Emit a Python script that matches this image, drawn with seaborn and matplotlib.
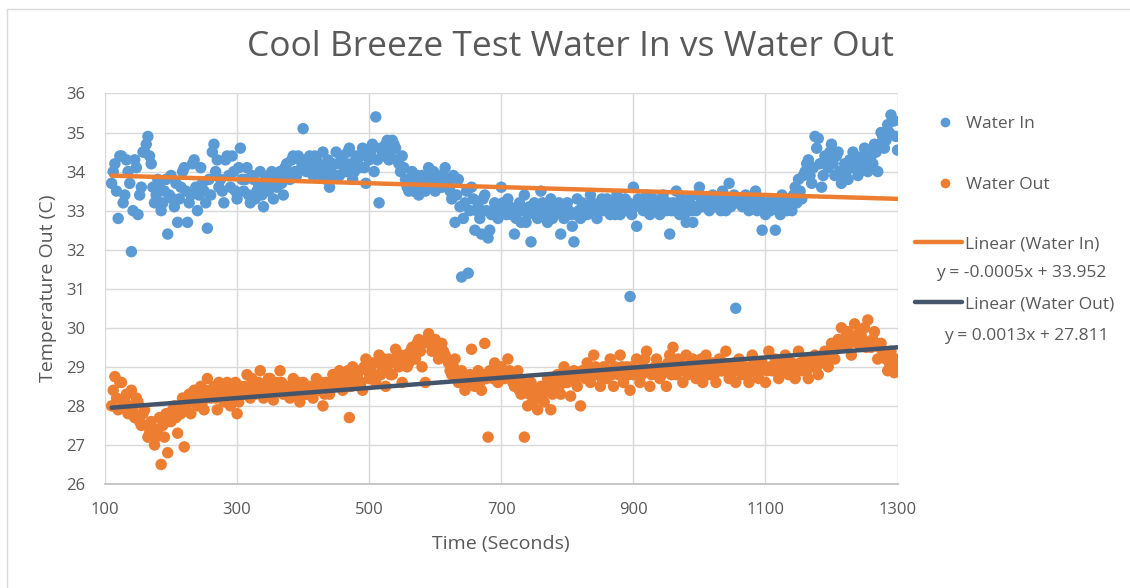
import numpy as np
import pandas as pd
import matplotlib.pyplot as plt
import seaborn as sns
from matplotlib.lines import Line2D
from matplotlib.patches import Rectangle

sns.set_theme(style="white")
plt.rcParams['font.family'] = ['Open Sans', 'DejaVu Sans']

# sample times (s): readings every 5 s, plus the in-between readings
time_a = np.arange(110, 1301, 5)
time_b = np.arange(112.5, 1300, 5)

# temperatures (C), one row = 50 s
water_in_a = [
    33.7, 34.2, 32.8, 34.4, 33.4, 34.0, 31.95, 34.3, 32.9, 33.6,   # 110
    34.5, 34.9, 34.2, 33.2, 33.8, 33.0, 33.5, 32.4, 33.9, 33.1,   # 160
    32.7, 33.6, 34.1, 32.7, 33.4, 34.3, 33.0, 34.1, 33.5, 32.55,  # 210
    33.4, 34.7, 34.3, 33.8, 33.2, 34.4, 33.6, 34.0, 33.3, 34.6,   # 260
    33.5, 34.1, 33.2, 33.8, 33.5, 34.0, 33.1, 33.7, 33.9, 33.3,   # 310
    33.6, 34.0, 33.4, 34.2, 33.8, 34.4, 33.9, 34.3, 35.1, 34.0,   # 360
    34.4, 33.9, 34.3, 34.0, 34.5, 33.8, 33.6, 34.2, 34.5, 33.9,   # 410
    34.3, 34.0, 34.6, 33.8, 34.4, 34.1, 34.6, 33.7, 34.3, 34.7,   # 460
    35.4, 33.2, 34.5, 34.7, 34.3, 34.8, 34.6, 34.2, 34.4, 33.8,   # 510
    33.5, 34.0, 33.6, 33.4, 33.9, 33.5, 34.1, 33.7, 33.5, 33.9,   # 560
    33.6, 34.1, 33.7, 33.3, 32.7, 33.8, 31.3, 33.2, 31.4, 33.6,   # 610
    32.5, 33.1, 32.4, 33.4, 32.3, 32.9, 33.2, 32.8, 33.6, 33.0,   # 660
    33.3, 32.9, 32.4, 33.1, 32.7, 33.4, 32.9, 32.2, 33.2, 32.8,   # 710
    33.5, 33.0, 32.7, 33.3, 32.9, 33.1, 32.4, 32.8, 33.2, 32.9,   # 760
    32.2, 33.3, 32.8, 33.1, 32.9, 33.4, 33.0, 32.8, 33.2, 33.0,   # 810
    33.3, 32.9, 33.1, 33.4, 32.9, 33.2, 33.0, 30.8, 33.6, 32.6,   # 860
    33.2, 33.0, 33.4, 32.9, 33.3, 33.1, 32.9, 33.4, 33.0, 32.4,   # 910
    33.2, 33.5, 32.9, 33.1, 32.7, 33.3, 32.7, 33.0, 33.6, 33.1,   # 960
    33.3, 33.0, 33.4, 33.1, 33.2, 33.5, 33.0, 33.7, 33.2, 30.5,   # 1010
    33.3, 33.1, 33.4, 33.0, 33.2, 33.5, 33.1, 32.5, 32.9, 33.2,   # 1060
    33.3, 32.5, 33.0, 33.4, 33.1, 33.3, 33.0, 33.6, 33.8, 33.3,   # 1110
    34.0, 34.3, 33.7, 34.9, 34.85, 33.6, 34.4, 34.1, 34.7, 33.9,  # 1160
    34.5, 33.7, 34.2, 33.8, 34.1, 34.4, 33.9, 34.3, 34.6, 34.0,   # 1210
    34.4, 34.7, 34.0, 35.0, 34.6, 35.2, 35.45, 35.3, 34.55,       # 1260
]
water_in_b = [
    34.0, 33.5, 34.4, 33.2, 34.3, 33.7, 33.0, 34.1, 33.4, 34.5,   # 112.5
    34.7, 34.4, 33.6, 33.4, 33.6, 33.2, 33.8, 33.4, 33.3, 33.7,   # 162.5
    33.3, 34.0, 33.5, 33.2, 34.2, 33.6, 33.4, 33.7, 33.2, 33.8,   # 212.5
    34.5, 34.0, 33.6, 33.5, 34.3, 33.9, 34.4, 33.5, 34.1, 33.8,   # 262.5
    33.8, 33.4, 33.9, 33.3, 33.6, 33.4, 33.8, 33.5, 34.0, 33.7,   # 312.5
    33.9, 33.7, 34.1, 33.9, 34.3, 34.0, 34.4, 34.1, 34.3, 34.2,   # 362.5
    34.1, 34.4, 34.2, 33.9, 34.1, 34.3, 34.0, 33.9, 34.2, 34.4,   # 412.5
    34.1, 34.5, 34.2, 34.0, 34.2, 34.4, 34.1, 34.5, 34.5, 34.0,   # 462.5
    34.3, 34.6, 34.4, 34.8, 34.5, 34.7, 34.3, 34.0, 34.1, 33.6,   # 512.5
    33.8, 33.5, 33.9, 33.7, 33.6, 33.9, 33.8, 34.0, 33.7, 33.6,   # 562.5
    33.9, 33.8, 33.5, 33.9, 33.4, 33.1, 32.8, 33.5, 33.0, 33.3,   # 612.5
    33.0, 32.8, 33.3, 33.0, 32.5, 33.0, 33.1, 32.9, 33.2, 32.9,   # 662.5
    33.1, 33.0, 32.8, 33.2, 33.0, 32.7, 33.1, 33.0, 32.9, 33.1,   # 712.5
    33.2, 32.9, 33.1, 32.8, 33.0, 33.2, 32.9, 33.1, 33.0, 32.6,   # 762.5
    32.9, 33.0, 33.2, 32.9, 33.1, 33.2, 32.9, 33.1, 33.3, 33.1,   # 812.5
    33.1, 33.2, 32.9, 33.2, 33.1, 33.3, 33.2, 32.9, 33.1, 33.3,   # 862.5
    33.1, 33.2, 33.0, 33.2, 33.1, 33.0, 33.2, 33.1, 33.2, 33.0,   # 912.5
    33.0, 33.2, 33.3, 32.9, 33.2, 33.0, 33.1, 33.4, 33.2, 33.3,   # 962.5
    33.1, 33.2, 33.2, 33.3, 33.0, 33.2, 33.3, 33.1, 33.4, 33.2,   # 1012.5
    33.2, 33.3, 33.1, 33.2, 33.3, 33.0, 33.3, 33.2, 33.1, 33.0,   # 1062.5
    33.1, 33.2, 32.9, 33.2, 33.0, 33.2, 33.4, 33.2, 33.5, 33.9,   # 1112.5
    34.2, 33.9, 34.1, 34.6, 34.2, 33.9, 34.3, 34.5, 34.2, 34.4,   # 1162.5
    34.0, 33.9, 34.0, 34.3, 34.5, 34.2, 34.0, 34.4, 34.2, 34.5,   # 1212.5
    34.2, 34.5, 34.7, 34.9, 34.8, 35.0, 35.3, 34.9,               # 1262.5
]

water_out_a = [
    28.0, 28.75, 27.9, 28.6, 28.2, 27.8, 28.4, 27.7, 28.1, 27.5,  # 110
    27.9, 27.2, 27.6, 27.0, 27.4, 26.5, 27.2, 26.8, 27.6, 28.0,   # 160
    27.3, 27.8, 26.95, 28.1, 27.8, 28.4, 28.0, 28.5, 27.9, 28.7,  # 210
    28.2, 28.5, 27.9, 28.4, 28.1, 28.6, 28.0, 28.3, 27.8, 28.5,   # 260
    28.3, 28.8, 28.2, 28.6, 28.4, 28.9, 28.2, 28.5, 28.7, 28.15,  # 310
    28.6, 28.9, 28.3, 28.5, 28.2, 28.7, 28.4, 28.1, 28.6, 28.3,   # 360
    28.5, 28.2, 28.7, 28.4, 28.0, 28.6, 28.3, 28.8, 28.5, 28.9,   # 410
    28.4, 28.7, 27.7, 29.0, 28.6, 28.9, 28.4, 29.2, 28.7, 29.1,   # 460
    28.6, 29.3, 28.9, 28.5, 29.2, 28.8, 29.45, 29.0, 28.6, 29.3,  # 510
    29.1, 29.5, 29.2, 29.7, 29.0, 28.6, 29.85, 29.4, 29.7, 29.2,  # 560
    29.6, 29.3, 29.1, 28.8, 29.2, 28.6, 28.9, 28.4, 28.7, 29.45,  # 610
    28.5, 28.9, 28.4, 29.6, 27.2, 28.8, 29.1, 28.6, 29.0, 28.7,   # 660
    29.2, 28.8, 28.5, 28.9, 28.3, 27.2, 28.0, 28.6, 28.2, 27.9,   # 710
    28.5, 28.1, 28.7, 27.9, 28.4, 28.8, 28.3, 29.0, 28.6, 28.25,  # 760
    28.9, 28.5, 28.0, 28.8, 29.1, 28.6, 29.3, 28.8, 28.5, 29.0,   # 810
    28.7, 29.2, 28.5, 28.9, 29.3, 28.6, 29.0, 28.4, 28.8, 29.2,   # 860
    28.6, 29.0, 29.4, 28.5, 28.9, 29.2, 28.7, 29.0, 28.5, 29.3,   # 910
    29.5, 28.8, 29.1, 28.6, 29.3, 28.9, 29.2, 28.7, 29.0, 28.6,   # 960
    29.3, 28.8, 29.1, 28.6, 29.2, 28.9, 29.4, 28.7, 29.0, 28.6,   # 1010
    29.2, 28.8, 29.0, 28.6, 29.3, 28.9, 28.7, 29.1, 28.6, 29.4,   # 1060
    28.9, 29.2, 28.7, 29.0, 29.3, 28.8, 29.1, 28.7, 29.4, 28.9,   # 1110
    29.2, 28.7, 29.0, 29.3, 28.8, 29.1, 29.4, 29.0, 29.6, 29.2,   # 1160
    29.7, 30.0, 29.5, 29.9, 29.3, 30.1, 29.6, 29.8, 30.0, 30.2,   # 1210
    29.5, 29.9, 29.2, 29.6, 29.3, 28.9, 29.4, 28.85, 29.0,        # 1260
]
water_out_b = [
    28.4, 28.2, 28.6, 28.0, 28.3, 28.0, 27.9, 28.2, 27.6, 27.8,   # 112.5
    27.5, 27.3, 27.4, 27.2, 27.7, 27.5, 27.8, 27.6, 27.9, 27.7,   # 162.5
    28.0, 28.2, 28.0, 28.3, 28.1, 28.2, 28.3, 28.1, 28.4, 28.3,   # 212.5
    28.4, 28.2, 28.6, 28.3, 28.5, 28.2, 28.4, 28.6, 28.1, 28.3,   # 262.5
    28.5, 28.4, 28.7, 28.3, 28.6, 28.5, 28.4, 28.7, 28.3, 28.5,   # 312.5
    28.4, 28.6, 28.5, 28.3, 28.5, 28.3, 28.6, 28.4, 28.3, 28.5,   # 362.5
    28.3, 28.5, 28.4, 28.6, 28.3, 28.4, 28.6, 28.5, 28.7, 28.6,   # 412.5
    28.6, 28.9, 28.5, 28.8, 28.8, 28.6, 29.0, 28.9, 28.9, 28.8,   # 462.5
    29.1, 28.8, 29.2, 29.0, 28.8, 29.2, 29.1, 29.3, 29.2, 29.0,   # 512.5
    29.4, 29.3, 29.6, 29.4, 29.6, 29.7, 29.6, 29.5, 29.4, 29.5,   # 562.5
    29.4, 29.2, 28.9, 29.0, 28.9, 28.8, 28.7, 28.6, 28.8, 28.6,   # 612.5
    28.7, 28.6, 28.8, 28.7, 28.9, 28.7, 28.9, 28.8, 28.9, 28.8,   # 662.5
    28.9, 28.6, 28.7, 28.4, 28.6, 28.4, 28.3, 28.1, 28.4, 28.2,   # 712.5
    28.3, 28.4, 28.5, 28.3, 28.6, 28.5, 28.7, 28.6, 28.8, 28.7,   # 762.5
    28.7, 28.8, 28.9, 28.7, 28.9, 28.8, 29.0, 28.9, 28.7, 28.8,   # 812.5
    28.9, 28.8, 29.0, 28.8, 29.0, 28.9, 28.8, 29.0, 28.9, 28.9,   # 862.5
    28.8, 29.2, 28.9, 28.8, 29.0, 28.9, 28.8, 28.9, 29.1, 28.8,   # 912.5
    29.0, 29.2, 28.9, 29.0, 28.8, 29.1, 28.9, 28.9, 29.2, 28.8,   # 962.5
    29.0, 28.9, 28.8, 29.0, 28.9, 29.1, 28.9, 28.8, 29.1, 28.9,   # 1012.5
    29.0, 28.9, 28.8, 29.0, 29.1, 28.8, 28.9, 29.0, 28.9, 29.0,   # 1062.5
    29.0, 28.9, 29.1, 28.9, 29.0, 29.1, 28.9, 29.0, 29.1, 29.0,   # 1112.5
    28.9, 29.0, 29.1, 29.0, 29.1, 29.2, 29.2, 29.3, 29.4, 29.5,   # 1162.5
    29.5, 29.7, 29.8, 29.6, 29.7, 29.8, 29.9, 29.7, 29.5, 29.6,   # 1212.5
    29.7, 29.6, 29.5, 29.4, 29.2, 29.1, 29.0, 29.2,               # 1262.5
]

# linear trendline coefficients shown on the chart (slope, intercept)
trend_in = (-0.0005, 33.952)
trend_out = (0.0013, 27.811)

series_names = ['Water In', 'Water Out']
point_colors = {'Water In': '#5B9BD5', 'Water Out': '#ED7D31'}
trend_colors = ['#ED7D31', '#44546A']
text_color = '#595959'
grid_color = '#d9d9d9'

na, nb = len(time_a), len(time_b)
df = pd.DataFrame({
    'Time': np.concatenate([time_a, time_b, time_a, time_b]),
    'Temp': water_in_a + water_in_b + water_out_a + water_out_b,
    'Series': ['Water In'] * (na + nb) + ['Water Out'] * (na + nb),
})

fig = plt.figure(figsize=(11.3, 5.88), dpi=100)
ax = fig.add_axes([0.0929, 0.1769, 0.7014, 0.6641])

sns.scatterplot(data=df, x='Time', y='Temp', hue='Series', palette=point_colors,
                s=68, linewidth=0, alpha=1, legend=False, ax=ax)

# trendlines
t_ends = np.array([time_a.min(), time_a.max()])
for (m, b), c in zip([trend_in, trend_out], trend_colors):
    sns.lineplot(x=t_ends, y=m * t_ends + b, color=c, linewidth=3.2, ax=ax)

ax.set_xlim(100, 1300)
ax.set_ylim(26, 36)
ax.set_xticks(range(100, 1301, 200))
ax.set_yticks(range(26, 37))
ax.grid(True, color=grid_color, linewidth=1)
ax.set_axisbelow(True)
for side in ['top', 'right', 'left']:
    ax.spines[side].set_visible(False)
ax.spines['bottom'].set_color('#bfbfbf')
ax.tick_params(length=0, colors=text_color, labelsize=12)
ax.tick_params(axis='x', pad=13)
ax.tick_params(axis='y', pad=14)
ax.set_xlabel('Time (Seconds)', fontsize=14, color=text_color, labelpad=12)
ax.set_ylabel('Temperature Out (C)', fontsize=14, color=text_color, labelpad=7)

fig.text(0.505, 0.92, 'Cool Breeze Test Water In vs Water Out',
         ha='center', va='center', fontsize=25.5, color=text_color)

# legend: scatter series
dot_handles = [Line2D([], [], marker='o', linestyle='', markersize=7,
                      markerfacecolor=point_colors[s], markeredgewidth=0)
               for s in series_names]
leg1 = ax.legend(dot_handles, series_names, loc='upper left',
                 bbox_to_anchor=(0.821, 0.8027), bbox_transform=fig.transFigure,
                 frameon=False, fontsize=12.5, labelcolor=text_color,
                 labelspacing=2.59, handlelength=2.0, handletextpad=0.2,
                 borderpad=0, borderaxespad=0)
ax.add_artist(leg1)

# legend: trendlines
line_handles = [Line2D([], [], color=c, linewidth=3.2) for c in trend_colors]
line_labels = [f'Linear ({s})' for s in series_names]
ax.legend(line_handles, line_labels, loc='upper left',
          bbox_to_anchor=(0.8097, 0.5986), bbox_transform=fig.transFigure,
          frameon=False, fontsize=12.5, labelcolor=text_color,
          labelspacing=2.53, handlelength=2.7, handletextpad=0.2,
          borderpad=0, borderaxespad=0)

for (m, b), (x, y) in zip([trend_in, trend_out], [(0.9035, 0.5357), (0.908, 0.4286)]):
    sign = '-' if m < 0 else ''
    fig.text(x, y, f'y = {sign}{abs(m):.4f}x + {b:.3f}', ha='center', va='center',
             fontsize=12.5, color=text_color)

# chart area border
fig.patches.append(Rectangle((0.006, -0.05), 1.05, 1.035, transform=fig.transFigure,
                             fill=False, edgecolor=grid_color, linewidth=1, figure=fig))

fig.savefig('out.png', dpi=100)
